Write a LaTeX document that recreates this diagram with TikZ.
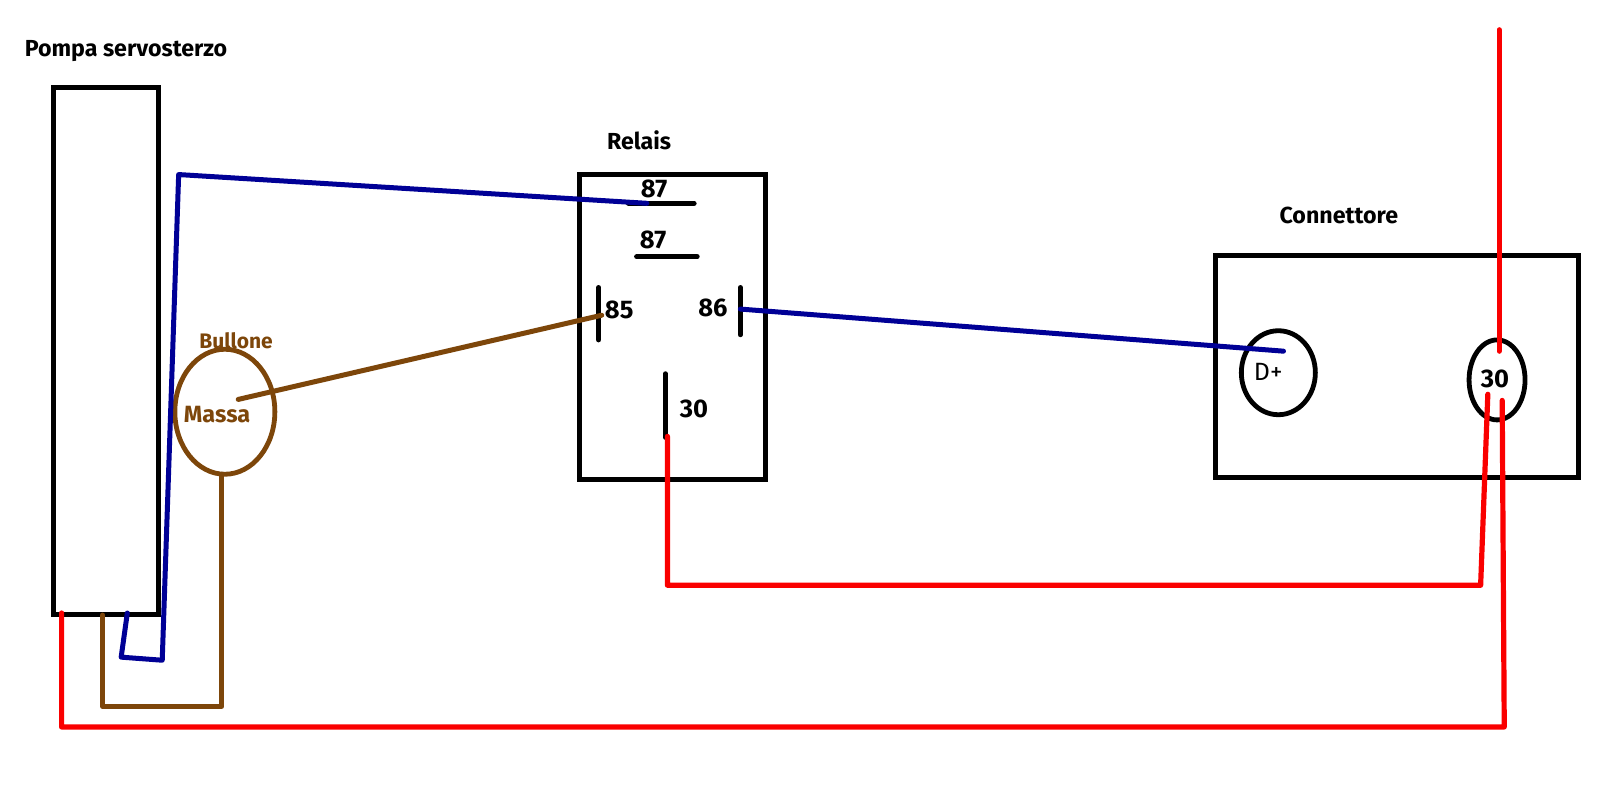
\documentclass[tikz,border=0pt]{standalone}
\usepackage{fontspec}
\setmainfont{Fira Sans}
\usetikzlibrary{shapes.geometric}
\definecolor{wblue}{RGB}{0,0,150}
\definecolor{wbrown}{RGB}{125,70,10}
\definecolor{wred}{RGB}{250,0,0}
\tikzset{
  box/.style={draw=black,line width=5pt,rectangle,inner sep=0pt,outer sep=0pt,fill=none},
  oval/.style={ellipse,line width=4.8pt,inner sep=0pt,outer sep=0pt},
  wire/.style={line width=5pt,line cap=round,line join=round},
  bluewire/.style={wire,draw=wblue},
  brownwire/.style={wire,draw=wbrown},
  redwire/.style={wire,draw=wred,line width=5.2pt},
  pin/.style={wire,draw=black},
  lab/.style={inner sep=0pt,anchor=base west,font=\fontsize{23.2}{26}\selectfont\bfseries,text=black},
  numlab/.style={lab,font=\fontsize{25.5}{30}\selectfont\bfseries},
  dlab/.style={lab,font=\fontsize{25}{28}\selectfont},
  bulllab/.style={lab,text=wbrown,font=\fontsize{21}{24}\selectfont\bfseries},
  massalab/.style={lab,text=wbrown,font=\fontsize{23.5}{26}\selectfont\bfseries},
}
\begin{document}
\begin{tikzpicture}[x=1.0268pt,y=-1.0268pt]
\useasboundingbox[fill=white] (0,0) rectangle (1568,771.3);
% boxes
\node[box,minimum width=105pt,minimum height=527pt] (pump) at (103,341.5) {};
\node[box,minimum width=186pt,minimum height=305pt] (relay) at (655,318) {};
\node[box,minimum width=363pt,minimum height=222pt] (conn) at (1361,356.5) {};
\node[oval,draw=wbrown,minimum width=100pt,minimum height=125pt] (bolt) at (219,401) {};
\node[oval,draw=black,minimum width=74pt,minimum height=84pt] (dplus) at (1245,363) {};
\node[oval,draw=black,minimum width=56pt,minimum height=80pt] (thirty) at (1458,370) {};
% pins
\coordinate (p87aL) at (612,198); \coordinate (p87aR) at (676,198);
\coordinate (p87bL) at (620,250); \coordinate (p87bR) at (679,250);
\coordinate (p85T) at (583,280); \coordinate (p85B) at (583,331);
\coordinate (p86T) at (721,280); \coordinate (p86B) at (721,326);
\coordinate (p30T) at (648,364); \coordinate (p30B) at (648,426);
\draw[pin] (p87aL) -- (p87aR);
\draw[pin] (p87bL) -- (p87bR);
\draw[pin] (p85T) -- (p85B);
\draw[pin] (p86T) -- (p86B);
\draw[pin] (p30T) -- (p30B);
% blue wires
\coordinate (b1) at (124,597); \coordinate (b2) at (118,640);
\coordinate (b3) at (158,643); \coordinate (b4) at (174,170);
\coordinate (b5) at (630,198);
\draw[bluewire] (b1) -- (b2) -- (b3) -- (b4) -- (b5);
\coordinate (b6) at (721,301); \coordinate (b7) at (1250,342);
\draw[bluewire] (b6) -- (b7);
% brown wires
\coordinate (m1) at (100,599); \coordinate (m2) at (100,688);
\coordinate (m3) at (216,688); \coordinate (m4) at (216,462);
\draw[brownwire] (m1) -- (m2) -- (m3) -- (m4);
\coordinate (m5) at (232,389); \coordinate (m6) at (586,307);
\draw[brownwire] (m5) -- (m6);
% red wires
\coordinate (r1) at (60,597); \coordinate (r2) at (60,708);
\coordinate (r3) at (1465,708); \coordinate (r4) at (1463,390);
\draw[redwire] (r1) -- (r2) -- (r3) -- (r4);
\coordinate (r5) at (650,425); \coordinate (r6) at (650,570);
\coordinate (r7) at (1442,570); \coordinate (r8) at (1449,384);
\draw[redwire] (r5) -- (r6) -- (r7) -- (r8);
\coordinate (r9) at (1460,29); \coordinate (r10) at (1460,342);
\draw[redwire] (r9) -- (r10);
% labels
\node[lab] (tPump) at (24,55.5) {Pompa servosterzo};
\node[lab] (tRelay) at (591,145.5) {Relais};
\node[lab] (tConn) at (1246,217.5) {Connettore};
\node[numlab] (t87a) at (624,192.5) {87};
\node[numlab] (t87b) at (623,242) {87};
\node[numlab] (t85) at (589,310.5) {85};
\node[numlab] (t86) at (680,308.5) {86};
\node[numlab] (t30) at (662,406.5) {30};
\node[dlab] (tD) at (1221,370.5) {D+};
\node[numlab] (t30b) at (1442,377.5) {30};
\node[bulllab] (tBolt) at (194,339.5) {Bullone};
\node[massalab] (tMassa) at (179,411.5) {Massa};
\end{tikzpicture}
\end{document}
